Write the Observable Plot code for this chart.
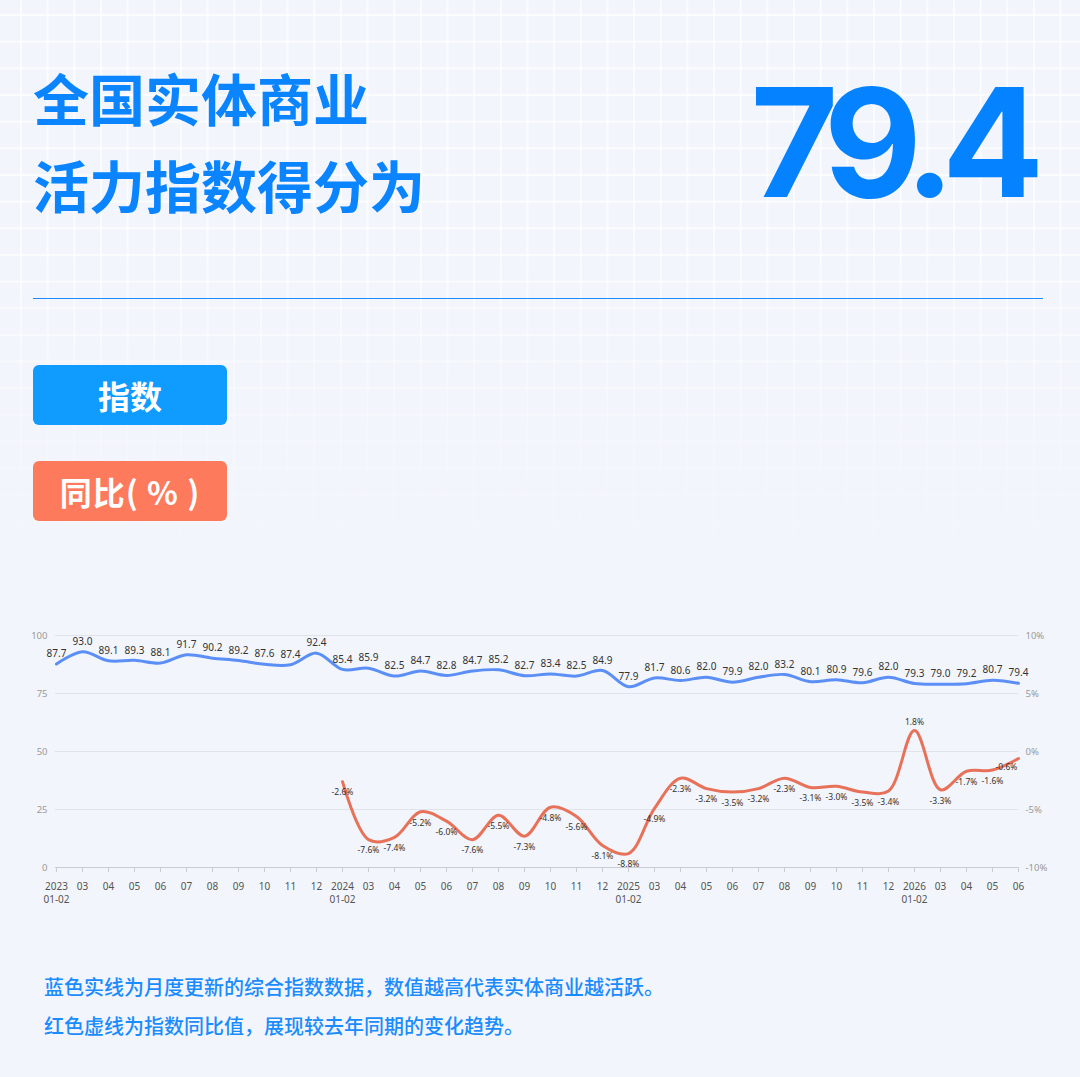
<!DOCTYPE html>
<html>
<head>
<meta charset="utf-8">
<script src="https://cdn.jsdelivr.net/npm/d3@7"></script>
<script src="https://cdn.jsdelivr.net/npm/@observablehq/plot@0.6"></script>
<style>
  html, body { margin: 0; padding: 0; }
  body { width: 1080px; height: 1077px; background: #f2f5fb; position: relative; overflow: hidden; font-family: "Noto Sans CJK SC", "Noto Sans", sans-serif; }
  #grid { position: absolute; left: 0; top: 0; width: 1080px; height: 1077px;
    background-image: linear-gradient(to right, rgba(255,255,255,0.7) 1.5px, transparent 1.5px), linear-gradient(to bottom, rgba(255,255,255,0.7) 1.5px, transparent 1.5px);
    background-size: 26.67px 26.67px; background-position: 20px 14px;
    -webkit-mask-image: linear-gradient(to bottom, black 0%, black 22%, rgba(0,0,0,0.3) 42%, transparent 56%);
    mask-image: linear-gradient(to bottom, black 0%, black 22%, rgba(0,0,0,0.3) 42%, transparent 56%); }
  #title { position: absolute; left: 33px; top: 53px; font-size: 56px; font-weight: 700; line-height: 87px; color: #0a84ff; }
  #big { position: absolute; right: 49px; top: 62px; font-family: Inter, sans-serif; font-size: 151px; font-weight: 700; line-height: 160px; color: #0582ff; letter-spacing: -13px; }
  #rule { position: absolute; left: 33px; top: 298px; width: 1010px; height: 0; border-top: 1.5px solid #1a8cff; }
  .btn { position: absolute; left: 33px; width: 194px; height: 60px; border-radius: 6px; color: #fff; font-size: 32px; font-weight: 700; text-align: center; line-height: 60px; }
  #b1 { top: 365px; background: #0f9bff; }
  #b2 { top: 461px; background: #fe7a5d; letter-spacing: 1px; }
  #chart { position: absolute; left: 0; top: 615px; }
  .cap { position: absolute; left: 44px; font-size: 20px; font-weight: 500; color: #1a8cff; }
  #c1 { top: 972px; }
  #c2 { top: 1011px; }
</style>
</head>
<body>
<div id="grid"></div>
<div id="title">全国实体商业<br>活力指数得分为</div>
<div id="big">79.4</div>
<div id="rule"></div>
<div class="btn" id="b1">指数</div>
<div class="btn" id="b2">同比( % )</div>
<div id="chart"></div>
<div class="cap" id="c1">蓝色实线为月度更新的综合指数数据，数值越高代表实体商业越活跃。</div>
<div class="cap" id="c2">红色虚线为指数同比值，展现较去年同期的变化趋势。</div>
<script>
const tickLabels = [
  "2023\n01-02","03","04","05","06","07","08","09","10","11","12",
  "2024\n01-02","03","04","05","06","07","08","09","10","11","12",
  "2025\n01-02","03","04","05","06","07","08","09","10","11","12",
  "2026\n01-02","03","04","05","06"
];
const indexValues = [
  87.7,93.0,89.1,89.3,88.1,91.7,90.2,89.2,87.6,87.4,92.4,
  85.4,85.9,82.5,84.7,82.8,84.7,85.2,82.7,83.4,82.5,84.9,
  77.9,81.7,80.6,82.0,79.9,82.0,83.2,80.1,80.9,79.6,82.0,
  79.3,79.0,79.2,80.7,79.4
];
const yoyStart = 11; // 2024 01-02
const yoyValues = [
  -2.6,-7.6,-7.4,-5.2,-6.0,-7.6,-5.5,-7.3,-4.8,-5.6,-8.1,
  -8.8,-4.9,-2.3,-3.2,-3.5,-3.2,-2.3,-3.1,-3.0,-3.5,-3.4,
  1.8,-3.3,-1.7,-1.6,-0.6
];
const leftTicks = [0,25,50,75,100];

const idx = indexValues.map((v,i)=>({i, v}));
// right axis: -10%..10% mapped onto 0..100 of the left scale
const toLeft = p => 50 + p*5;
const yoy = yoyValues.map((p,k)=>({i: yoyStart+k, p, y: toLeft(p)}));
const fmtPct = p => (p < 0 ? "-" : "") + Math.abs(p).toFixed(1) + "%";
const lastI = tickLabels.length - 1;

const chart = Plot.plot({
  width: 1080,
  height: 297,
  marginTop: 20,
  marginRight: 62,
  marginBottom: 45,
  marginLeft: 55,
  style: {background: "transparent", fontFamily: "'Noto Sans', sans-serif"},
  x: {type: "point", domain: d3.range(tickLabels.length), padding: 0},
  y: {domain: [0,100]},
  marks: [
    Plot.gridY(leftTicks.filter(d=>d>0), {stroke: "#dfe3ea", strokeOpacity: 1}),
    Plot.ruleY([0], {stroke: "#c9ccd2"}),
    Plot.axisY(leftTicks, {tickSize: 0, tickPadding: 8, fontSize: 9.5, color: "#9a9a9a", label: null}),
    Plot.axisY(leftTicks, {anchor: "right", tickSize: 0, tickPadding: 7, fontSize: 9.5, color: "#9a9a9a", label: null,
      tickFormat: d => { const p = (d-50)/5; return (p<0?"-":"") + Math.abs(p) + "%"; }}),
    Plot.axisX({tickSize: 5, tickPadding: 8, fontSize: 10, color: "#555", stroke: "#c9ccd2", label: null,
      tickFormat: i => tickLabels[i], lineHeight: 1.3}),
    Plot.line(idx, {x: "i", y: "v", stroke: "#5b8ff5", strokeWidth: 3, curve: "catmull-rom"}),
    Plot.line(yoy, {x: "i", y: "y", stroke: "#e8715a", strokeWidth: 3, curve: "catmull-rom"}),
    Plot.text(idx, {x: "i", y: "v", text: d => d.v.toFixed(1), dy: -10, fontSize: 10, fill: "#333"}),
    Plot.text(yoy.filter(d => d.p < 0 && d.i !== lastI), {x: "i", y: "y", text: d => fmtPct(d.p), dy: 11, fontSize: 8.5, fill: "#333"}),
    Plot.text(yoy.filter(d => d.p < 0 && d.i === lastI), {x: "i", y: "y", text: d => fmtPct(d.p), dy: 9, dx: -12, fontSize: 8.5, fill: "#333"}),
    Plot.text(yoy.filter(d => d.p >= 0), {x: "i", y: "y", text: d => fmtPct(d.p), dy: -8, fontSize: 8.5, fill: "#333"})
  ]
});
document.getElementById("chart").appendChild(chart);
</script>
</body>
</html>
